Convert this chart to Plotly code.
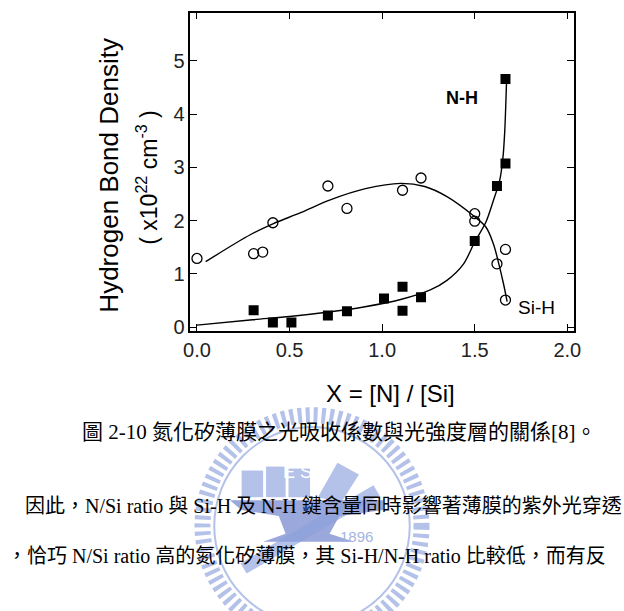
import plotly.graph_objects as go

# ---- data ----
sih_x = [0.0, 0.306, 0.355, 0.41, 0.707, 0.81, 1.11, 1.21, 1.50, 1.50, 1.62, 1.666, 1.666]
sih_y = [1.29, 1.38, 1.41, 1.96, 2.65, 2.23, 2.57, 2.80, 2.13, 1.99, 1.19, 1.46, 0.51]

nh_x = [0.306, 0.41, 0.51, 0.707, 0.81, 1.01, 1.11, 1.11, 1.21, 1.50, 1.62, 1.666, 1.666]
nh_y = [0.32, 0.09, 0.09, 0.22, 0.30, 0.54, 0.76, 0.31, 0.56, 1.62, 2.65, 3.07, 4.66]

sih_fit_x = [0.047, 0.29, 0.41, 0.56, 0.72, 0.91, 1.10, 1.23, 1.35, 1.49, 1.56, 1.60, 1.63, 1.655, 1.675]
sih_fit_y = [1.23, 1.74, 1.94, 2.15, 2.39, 2.60, 2.70, 2.64, 2.45, 2.10, 1.88, 1.57, 1.19, 0.82, 0.48]

nh_fit_x = [0.0, 0.3, 0.5, 0.7, 0.9, 1.1, 1.26, 1.35, 1.44, 1.50, 1.56, 1.60, 1.634, 1.652, 1.662, 1.672]
nh_fit_y = [0.04, 0.14, 0.20, 0.28, 0.38, 0.52, 0.70, 0.88, 1.19, 1.60, 1.97, 2.37, 2.74, 3.17, 3.67, 4.63]

x_ticks = [0.0, 0.5, 1.0, 1.5, 2.0]
y_ticks = [0, 1, 2, 3, 4, 5]

W, H = 624, 611
def px(x):
    return x / W
def py(y):
    return 1 - y / H

fig = go.Figure()

fig.add_trace(go.Scatter(x=sih_fit_x, y=sih_fit_y, mode="lines", line=dict(color="black", width=1.4, shape="spline", smoothing=1.0), showlegend=False, hoverinfo="skip"))
fig.add_trace(go.Scatter(x=nh_fit_x, y=nh_fit_y, mode="lines", line=dict(color="black", width=1.4, shape="spline", smoothing=0.8), showlegend=False, hoverinfo="skip"))
fig.add_trace(go.Scatter(x=sih_x, y=sih_y, mode="markers", name="Si-H",
                         marker=dict(symbol="circle-open", size=10, color="black", line=dict(width=1.3, color="black")), showlegend=False))
fig.add_trace(go.Scatter(x=nh_x, y=nh_y, mode="markers", name="N-H",
                         marker=dict(symbol="square", size=10, color="black"), showlegend=False))

axis_common = dict(showline=True, linecolor="black", linewidth=1.5, mirror="allticks", ticks="inside",
                   ticklen=7, tickwidth=1.3, tickcolor="black", showgrid=False, zeroline=False,
                   tickfont=dict(family="Liberation Sans, Arial, sans-serif", size=20, color="#222"))

fig.update_layout(
    width=W, height=H, margin=dict(l=0, r=0, t=0, b=0),
    paper_bgcolor="white", plot_bgcolor="rgba(0,0,0,0)",
    xaxis=dict(domain=[px(187.7), px(580)], range=[-0.035, 2.036], tickvals=x_ticks,
               ticktext=[f"{v:.1f}" for v in x_ticks], **axis_common),
    yaxis=dict(domain=[py(335), py(12.7)], range=[-0.074, 5.905], tickvals=y_ticks,
               ticktext=[str(v) for v in y_ticks], **axis_common),
)

# ---- watermark (light NCTU-style logo) ----
wm_light = "rgba(140,160,220,0.65)"
wm_mid = "rgba(100,122,200,0.65)"
cx, cy, r = 312, 532, 112
shapes = [
    dict(type="circle", xref="paper", yref="paper", x0=px(cx - r), x1=px(cx + r), y0=py(cy + r), y1=py(cy - r),
         line=dict(color=wm_light, width=16, dash="4px,4px"), layer="below"),
    dict(type="circle", xref="paper", yref="paper", x0=px(cx - r + 12), x1=px(cx + r - 12), y0=py(cy + r - 12), y1=py(cy - r + 12),
         line=dict(color=wm_light, width=2), layer="below"),
    # books
    dict(type="rect", xref="paper", yref="paper", x0=px(240), x1=px(262), y0=py(503), y1=py(476), fillcolor=wm_light, line=dict(width=0), layer="below"),
    dict(type="rect", xref="paper", yref="paper", x0=px(265), x1=px(285), y0=py(503), y1=py(472), fillcolor=wm_light, line=dict(width=0), layer="below"),
    dict(type="rect", xref="paper", yref="paper", x0=px(288), x1=px(310), y0=py(503), y1=py(474), fillcolor=wm_light, line=dict(width=0), layer="below"),
    # tilted book
    dict(type="path", xref="paper", yref="paper",
         path=f"M {px(318)},{py(503)} L {px(338)},{py(468)} L {px(360)},{py(480)} L {px(342)},{py(508)} Z",
         fillcolor=wm_light, line=dict(width=0), layer="below"),
    # anvil
    dict(type="path", xref="paper", yref="paper",
         path=(f"M {px(228)},{py(506)} L {px(385)},{py(506)} L {px(385)},{py(516)} L {px(340)},{py(522)} "
               f"L {px(330)},{py(540)} L {px(355)},{py(548)} L {px(262)},{py(548)} L {px(285)},{py(540)} "
               f"L {px(278)},{py(522)} L {px(240)},{py(516)} Z"),
         fillcolor=wm_mid, line=dict(width=0), layer="below"),
    # hammer handle
    dict(type="line", xref="paper", yref="paper", x0=px(242), y0=py(575), x1=px(378), y1=py(496),
         line=dict(color=wm_light, width=12), layer="below"),
]
fig.update_layout(shapes=shapes)

annotations = [
    dict(x=px(297), y=py(490), xref="paper", yref="paper", text="E S", showarrow=False,
         font=dict(family="Liberation Sans, Arial", size=18, color="white")),
    dict(x=px(358), y=py(553), xref="paper", yref="paper", text="1896", showarrow=False,
         font=dict(family="Liberation Sans, Arial", size=15, color="rgb(165,180,226)")),
    # series labels
    dict(x=1.429, y=4.30, xref="x", yref="y", text="<b>N-H</b>", showarrow=False,
         font=dict(family="Liberation Sans, Arial", size=18, color="black")),
    dict(x=1.836, y=0.37, xref="x", yref="y", text="Si-H", showarrow=False,
         font=dict(family="Liberation Sans, Arial", size=19, color="black")),
    # axis titles
    dict(x=px(392), y=py(398), xref="paper", yref="paper", text="X = [N] / [Si]", showarrow=False,
         font=dict(family="Liberation Sans, Arial", size=24, color="black")),
    dict(x=px(104), y=py(177), xref="paper", yref="paper", text="Hydrogen Bond Density", textangle=-90,
         showarrow=False, xanchor="center", yanchor="middle",
         font=dict(family="Liberation Sans, Arial", size=26, color="black")),
    dict(x=px(143), y=py(180), xref="paper", yref="paper", text="( x10<sup>22</sup> cm<sup>-3</sup> )", textangle=-90,
         showarrow=False, xanchor="center", yanchor="middle",
         font=dict(family="Liberation Sans, Arial", size=23, color="black")),
    # caption and body text
    dict(x=px(75), y=py(437), xref="paper", yref="paper", xanchor="left", yanchor="middle",
         text="圖 2-10 氮化矽薄膜之光吸收係數與光強度層的關係[8]。", showarrow=False,
         font=dict(family="Liberation Serif, Noto Sans CJK TC", size=21, color="black")),
    dict(x=px(16), y=py(512), xref="paper", yref="paper", xanchor="left", yanchor="middle",
         text="因此，N/Si ratio 與 Si-H 及 N-H 鍵含量同時影響著薄膜的紫外光穿透", showarrow=False,
         font=dict(family="Liberation Serif, Noto Sans CJK TC", size=20, color="black")),
    dict(x=px(-2), y=py(562), xref="paper", yref="paper", xanchor="left", yanchor="middle",
         text="，恰巧 N/Si ratio 高的氮化矽薄膜，其 Si-H/N-H ratio 比較低，而有反", showarrow=False,
         font=dict(family="Liberation Serif, Noto Sans CJK TC", size=20, color="black")),
]
fig.update_layout(annotations=annotations)

fig.write_html("out.html")
